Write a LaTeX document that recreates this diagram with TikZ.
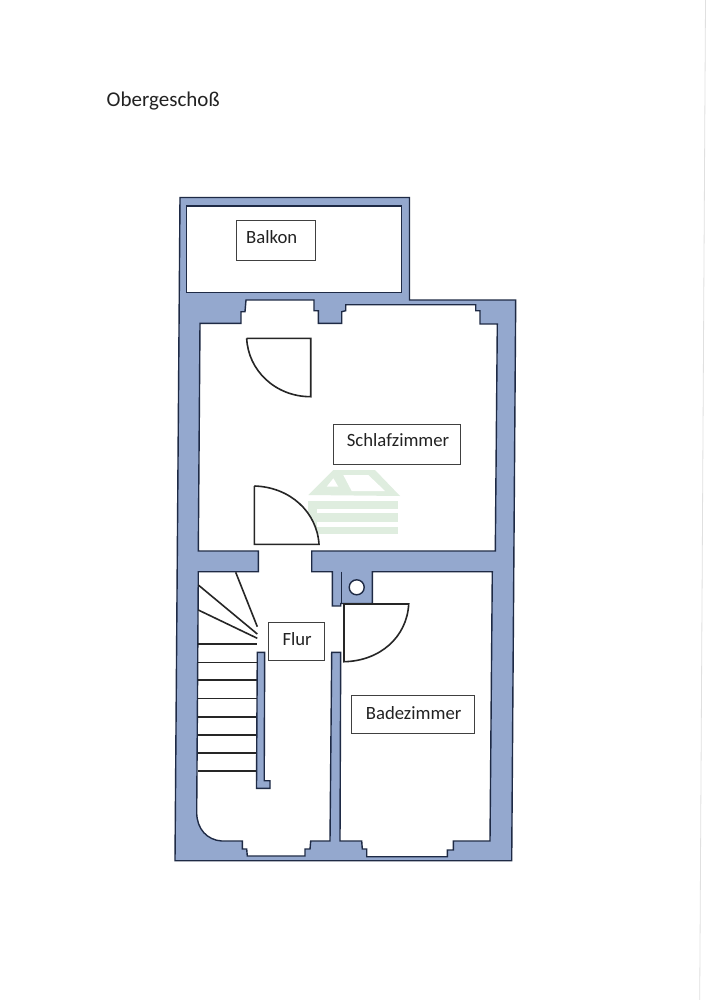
\documentclass[tikz,border=0pt]{standalone}
\usepackage{fontspec}
\setmainfont{Carlito}
\definecolor{wallblue}{HTML}{94A8CE}
\definecolor{walldark}{HTML}{1E2A45}
\definecolor{markgreen}{HTML}{DFEDDF}
\definecolor{inkgrey}{HTML}{222222}

\begin{document}
\begin{tikzpicture}[%
	x=1pt,y=-1pt,
	wall/.style={draw=walldark,fill=wallblue,line width=1.4pt,line join=miter},
	room/.style={draw=walldark,fill=white,line width=1.4pt,line join=miter},
	door/.style={draw=black!85,fill=white,line width=1.6pt},
	tread/.style={draw=black!85,line width=1.6pt},
	housemark/.style={fill=markgreen,draw=none},
	labelbox/.style={draw=black!75,fill=white,line width=0.9pt,anchor=north west,inner sep=0pt},
	roomname/.style={anchor=base west,inner sep=0pt,text=inkgrey,font=\fontsize{18.7}{22}\selectfont}]

	\useasboundingbox (0,0) rectangle (707,1000);
	\fill[white] (0,0) rectangle (707,1000);
	\draw[black!12,line width=0.8pt] (705.5,0) -- (699.7,1000);

	\node[roomname,font=\fontsize{21}{24}\selectfont] (TITLE) at (106.5,106.7) {Obergeschoß};

	% outer walls
	\path[wall] (180,197.5) -- (409.5,197.5) -- (409.5,300) -- (515.7,300)
		-- (511.7,860.7) -- (175,860.7) -- cycle;

	% balcony
	\path[room] (186.7,206) rectangle (401.3,292.7);

	% bedroom, hall and bathroom
	\path[room] (200,323.3) -- (241,323.3) -- (241,311.7) -- (245,311.7) -- (246,300)
		-- (314,300) -- (314,310.7) -- (318.3,310.7) -- (318.3,323.3) -- (341.7,323.3)
		-- (341.7,311.7) -- (345.7,310.7) -- (345.7,304.7) -- (475.7,304.7) -- (475.7,310.7)
		-- (480,310.7) -- (480,324) -- (497.3,324) -- (495.3,551)
		-- (311.7,551) -- (311.7,571.7) -- (332.3,571.7) -- (332.3,606) -- (340.7,606)
		-- (340.7,603.5) -- (372.3,603.5) -- (372.3,571.7) -- (492.3,571.7) -- (490,841)
		-- (453.3,841) -- (453.3,850) -- (447.3,850) -- (447.3,856.7) -- (366.7,856.7)
		-- (366.7,849) -- (362.3,849) -- (361.7,841) -- (340,841) -- (340.7,652.3)
		-- (331.7,652.3) -- (330,841) -- (310.7,841) -- (310,849) -- (305,849) -- (305,856)
		-- (247.3,856) -- (246.7,849) -- (242.3,849) -- (242.3,841) -- (221.7,841)
		.. controls (207,840) and (197,829) .. (196.7,813)
		-- (198.3,571.7) -- (258.3,571.7) -- (258.3,551) -- (198.3,551) -- cycle;

	% flue
	\draw[walldark,line width=1.4pt] (341.7,571.7) -- (341.7,603.5);
	\node[circle,draw=walldark,fill=white,line width=1.4pt,minimum size=15pt,inner sep=0pt] (FLUE) at (356.7,587.3) {};

	% watermark
	\path[housemark] (308.3,495) -- (333.3,470) -- (375,470) -- (400,496) -- cycle;
	\path[fill=white] (343.3,475) -- (368.3,475) -- (385,491) -- (351.7,491) -- cycle;
	\path[fill=white] (326.7,486.7) -- (338.3,486.7) -- (333.3,478.3) -- cycle;
	\path[housemark] (308.3,500.7) rectangle (398.3,509.3);
	\path[housemark] (308.3,513) rectangle (398.3,521.7);
	\path[housemark] (308.3,526.7) rectangle (398.3,534.3);
	\path[housemark] (308.3,500.7) rectangle (316.7,534.3);

	% stairs
	\foreach \ya/\xa/\yb in {572.3/235.7/626.7,585/198.3/634,610/198.3/638.3}
		\draw[tread] (\xa,\ya) -- (257.3,\yb);
	\foreach \yt in {643.7,662.3,680,698.3,716.7,734.7,752.7,770.7}
		\draw[tread] (197.5,\yt) -- (257.3,\yt);
	\path[wall] (257.3,652.3) -- (264.7,652.3) -- (264.2,780.7) -- (270,780.7) -- (270,788.3)
		-- (256.5,788.3) -- cycle;

	% doors
	\path[door] (246.7,338.3) -- (310.7,338.3) -- (310.7,396.7)
		.. controls (275,396.7) and (248,370) .. (246.7,338.3);
	\path[door] (254.3,486) -- (254.3,544.3) -- (319,544.3)
		.. controls (317,512) and (290,487) .. (254.3,486);
	\path[door] (344,604) -- (408.7,604)
		.. controls (407,637) and (380,661) .. (344,661.7) -- cycle;

	% labels
	\node[labelbox,minimum width=78.7pt,minimum height=40pt] (BK) at (236,220.3) {};
	\node[roomname] (BKTXT) at (246,243.3) {Balkon};
	\node[labelbox,minimum width=127pt,minimum height=40.3pt] (SZ) at (333,423.7) {};
	\node[roomname] (SZTXT) at (346.7,446.7) {Schlafzimmer};
	\node[labelbox,minimum width=56.3pt,minimum height=38.3pt] (FL) at (267.7,621.7) {};
	\node[roomname] (FLTXT) at (282.3,645) {Flur};
	\node[labelbox,minimum width=123.3pt,minimum height=38pt] (BZ) at (351,695.3) {};
	\node[roomname] (BZTXT) at (365.7,719) {Badezimmer};

\end{tikzpicture}
\end{document}
